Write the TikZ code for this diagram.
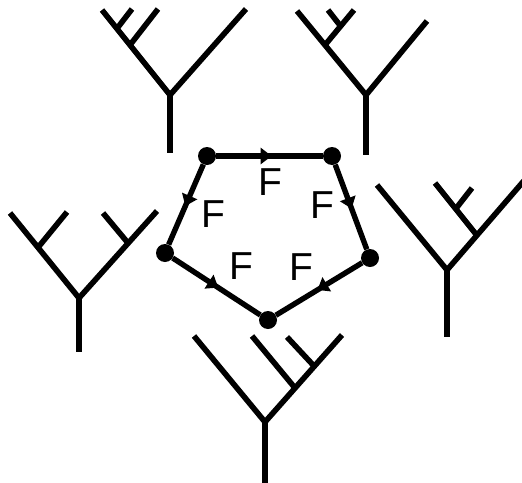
\documentclass[tikz,border=0pt]{standalone}
\usepackage{fontspec}
\setmainfont{Liberation Sans}
\usetikzlibrary{arrows.meta,decorations.markings}
\begin{document}
\begin{tikzpicture}[x=1pt,y=-1pt,
  treeline/.style={line width=5.6pt},
  vert/.style={circle,fill=black,inner sep=0pt,minimum size=18pt},
  pedge/.style={line width=5.4pt,postaction={decorate},decoration={markings,
     mark=at position 0.52 with {\arrow{Triangle[length=11pt,width=16pt]}}}},
  flab/.style={inner sep=0pt,font=\fontsize{39}{44}\selectfont}]
\useasboundingbox (0,0) rectangle (522,482);
% ---- tree 1 (top left)
\coordinate (t1r) at (170,95); \coordinate (t1s) at (170,153);
\coordinate (t1a) at (102,10); \coordinate (t1b) at (132,9);
\coordinate (t1c) at (158,9);  \coordinate (t1d) at (246,9);
\coordinate (t1n1) at (130,45); \coordinate (t1n2) at (117,28.5);
\draw[treeline] (t1a) -- (t1r) -- (t1d);
\draw[treeline] (t1r) -- (t1s);
\draw[treeline] (t1n1) -- (t1c);
\draw[treeline] (t1n2) -- (t1b);
% ---- tree 2 (top right)
\coordinate (t2r) at (366,95); \coordinate (t2s) at (366,155);
\coordinate (t2a) at (297,11); \coordinate (t2b) at (328,10);
\coordinate (t2c) at (354,10); \coordinate (t2d) at (427,21);
\coordinate (t2n1) at (325,45); \coordinate (t2n2) at (340.5,26);
\draw[treeline] (t2a) -- (t2r) -- (t2d);
\draw[treeline] (t2r) -- (t2s);
\draw[treeline] (t2n1) -- (t2c);
\draw[treeline] (t2n2) -- (t2b);
% ---- tree 3 (left)
\coordinate (t3r) at (79,298); \coordinate (t3s) at (79,352);
\coordinate (t3a) at (10,213); \coordinate (t3b) at (67,212);
\coordinate (t3c) at (103,213); \coordinate (t3d) at (157,211);
\coordinate (t3n1) at (38,247.5); \coordinate (t3n2) at (128,243);
\draw[treeline] (t3a) -- (t3r) -- (t3d);
\draw[treeline] (t3r) -- (t3s);
\draw[treeline] (t3n1) -- (t3b);
\draw[treeline] (t3n2) -- (t3c);
% ---- tree 4 (right)
\coordinate (t4r) at (447,270); \coordinate (t4s) at (447,337);
\coordinate (t4a) at (377,185); \coordinate (t4b) at (435,183);
\coordinate (t4c) at (472,188); \coordinate (t4d) at (524,180.7);
\coordinate (t4n1) at (477,235.5); \coordinate (t4n2) at (456,208.5);
\draw[treeline] (t4a) -- (t4r) -- (t4d);
\draw[treeline] (t4r) -- (t4s);
\draw[treeline] (t4n1) -- (t4b);
\draw[treeline] (t4n2) -- (t4c);
% ---- tree 5 (bottom)
\coordinate (t5r) at (265,422); \coordinate (t5s) at (265,484);
\coordinate (t5a) at (194,336); \coordinate (t5b) at (252,336);
\coordinate (t5c) at (287,337); \coordinate (t5d) at (342,335);
\coordinate (t5n1) at (295,388); \coordinate (t5n2) at (314,366);
\draw[treeline] (t5a) -- (t5r) -- (t5d);
\draw[treeline] (t5r) -- (t5s);
\draw[treeline] (t5n1) -- (t5b);
\draw[treeline] (t5n2) -- (t5c);
% ---- pentagon
\node[vert] (tl) at (207,156) {};
\node[vert] (tr) at (332,156) {};
\node[vert] (rt) at (370,258) {};
\node[vert] (bt) at (268,320) {};
\node[vert] (lt) at (165,253) {};
\draw[pedge] (tl) -- (tr);
\draw[pedge] (tl) -- (lt);
\draw[pedge] (tr) -- (rt);
\draw[pedge] (lt) -- (bt);
\draw[pedge] (rt) -- (bt);
% ---- labels
\node[flab] (f1) at (270,182) {F};
\node[flab] (f2) at (213,214) {F};
\node[flab] (f3) at (322,205) {F};
\node[flab] (f4) at (241,266) {F};
\node[flab] (f5) at (301,267) {F};
\end{tikzpicture}
\end{document}
